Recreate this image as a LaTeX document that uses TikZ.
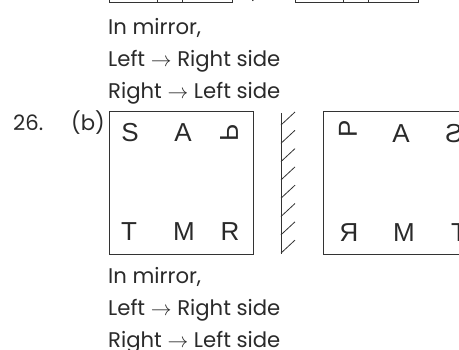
\documentclass[tikz,border=0pt]{standalone}
\usepackage{fontspec}
\setmainfont{Poppins}
\newfontfamily\boxfont{Liberation Sans}
\usepackage{graphicx}
\usetikzlibrary{positioning}
\definecolor{mrLine}{HTML}{333333}
\definecolor{mrText}{HTML}{2A2A2A}
\tikzset{
  mrtext/.style={font=\fontsize{21.2}{25}\selectfont, text=mrText, anchor=base west, inner sep=0pt},
  sqbox/.style={draw=mrLine, line width=1pt, minimum width=144pt, minimum height=143pt, inner sep=0pt},
  letter/.style={font=\boxfont\fontsize{26}{30}\selectfont, text=mrText, inner sep=0pt},
  mirrorline/.style={draw=mrLine, line width=1pt},
  hatch/.style={draw=mrLine, line width=0.8pt},
  cellline/.style={draw=mrLine, line width=1pt}
}
\begin{document}
\begin{tikzpicture}[x=1pt, y=-1pt]
  \useasboundingbox (0,0) rectangle (459,349);
  \clip (0,0) rectangle (459,349);
  % cut-off cells of the previous answer
  \draw[cellline] (109,-30) rectangle (232,2);
  \draw[cellline] (157,-30) -- (157,2) (182,-30) -- (182,2);
  \node[mrtext] (comma) at (252,-2) {,};
  \draw[cellline] (295,-30) rectangle (418,2);
  \draw[cellline] (343,-30) -- (343,2) (368,-30) -- (368,2);
  % explanation above
  \node[mrtext] (mA) at (108,34) {In mirror,};
  \node[mrtext] (lrA) at (108,66) {Left $\rightarrow$ Right side};
  \node[mrtext] (rlA) at (108,98) {Right $\rightarrow$ Left side};
  % question 26
  \node[mrtext] (qno) at (13,130) {26.};
  \node[mrtext] (opt) at (71,130) {(b)};
  \node[sqbox] (orig) at (181,182.5) {};
  \node[letter] (oS) at (130,133) {S};
  \node[letter] (oA) at (183,133) {A};
  \node[letter] (oP) at (229,133) {\rotatebox{-90}{\reflectbox{P}}};
  \node[letter] (oT) at (129,232) {T};
  \node[letter] (oM) at (184,232) {M};
  \node[letter] (oR) at (230,232) {R};
  % mirror
  \coordinate (mtop) at (281,113);
  \coordinate (mbot) at (281,254);
  \draw[mirrorline] (mtop) -- (mbot);
  \foreach \k in {0,...,7}
    \draw[hatch] (281,{125+18.3*\k}) -- ++(14,-13);
  % image
  \node[sqbox] (img) at (395,182.5) {};
  \node[letter] (iP) at (348,129) {\rotatebox{90}{P}};
  \node[letter] (iA) at (401,134) {A};
  \node[letter] (iS) at (454,134) {\reflectbox{S}};
  \node[letter] (iR) at (349,233) {\reflectbox{R}};
  \node[letter] (iM) at (404,233) {M};
  \node[letter] (iT) at (459,233) {T};
  % explanation below
  \node[mrtext] (mB) at (108,283) {In mirror,};
  \node[mrtext] (lrB) at (108,315) {Left $\rightarrow$ Right side};
  \node[mrtext] (rlB) at (108,347) {Right $\rightarrow$ Left side};
\end{tikzpicture}
\end{document}
